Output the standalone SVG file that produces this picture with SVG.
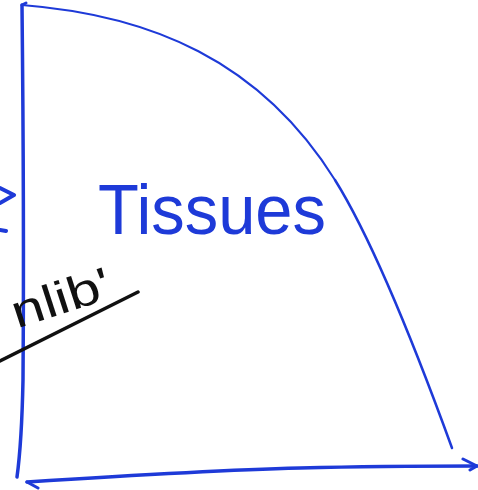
<svg xmlns="http://www.w3.org/2000/svg" width="478" height="490" viewBox="0 0 478 490">
<style>
.pen{fill:none;stroke:#1e3ad8;stroke-linecap:round;stroke-linejoin:round}
.ink{fill:none;stroke:#111;stroke-linecap:round}
.blue{font-family:"Liberation Sans",Arial,sans-serif;fill:#1e3ad8}
.black{font-family:"Liberation Sans",Arial,sans-serif;fill:#111}
</style>
<rect width="478" height="490" fill="#fff"/>
<g id="shape">
<path class="pen" stroke-width="3.5" d="M22,5 C23,100 24,250 23,380 C22,430 20,455 17,477"/>
<path class="pen" stroke-width="3" d="M22,5 L26,3"/>
<path class="pen" stroke-width="2" d="M22,5 C150,15 260,60 335,180"/>
<path class="pen" stroke-width="2.5" d="M335,180 C375,244 420,360 452,448"/>
<path class="pen" stroke-width="3.5" d="M27,482 C120,476 220,470 300,468 C380,466 430,466 477,466"/>
<path class="pen" stroke-width="3" d="M463,459 L477,466 L470,470"/>
<path class="pen" stroke-width="3" d="M27,482 L38,488"/>
</g>
<g id="left-arrow">
<path class="pen" stroke-width="4" d="M0,188 L14,195 L0,203"/>
<path class="pen" stroke-width="4" d="M0,230 L6,231"/>
</g>
<g id="label-tissues">
<text class="blue" x="98" y="234" font-size="70" textLength="228" lengthAdjust="spacingAndGlyphs">Tissues</text>
</g>
<g id="label-black">
<text class="black" transform="translate(0,334) rotate(-18)" x="18" y="0" font-size="46" textLength="102" lengthAdjust="spacingAndGlyphs">nlib'</text>
<path class="ink" stroke-width="3.5" d="M0,361 L138,292"/>
</g>
</svg>
